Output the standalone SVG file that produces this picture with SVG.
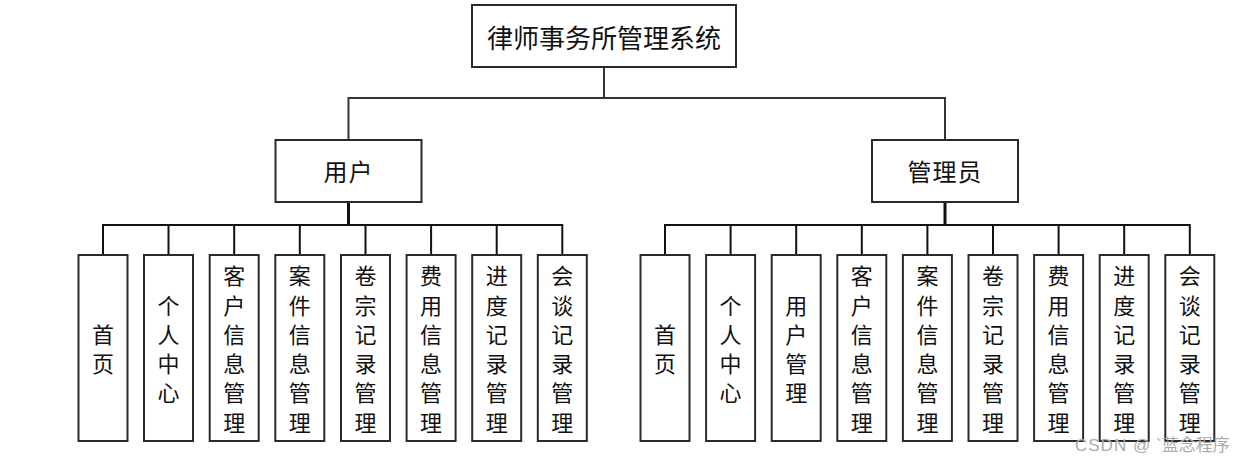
<svg xmlns="http://www.w3.org/2000/svg" width="1255" height="464" viewBox="0 0 1255 464">
<style>
.box{fill:#fff;stroke:#2a2a2a;stroke-width:2}
.t{font-family:"Noto Sans CJK SC","Noto Sans",sans-serif;fill:#111;text-anchor:middle;dominant-baseline:central}
.c{font-size:22px}
.ln{stroke:#111;stroke-width:2;fill:none}
.thick{stroke:#111;stroke-width:3;fill:none}
.top{stroke:#333;stroke-width:2;fill:none}
.wm{font-family:"Liberation Sans","Noto Sans CJK SC",sans-serif;font-size:17px;fill:#aaa}
</style>
<rect width="1255" height="464" fill="#fff"/>
<g id="connectors">
<path class="top" d="M604 68V98M348.5 98H945M348.5 97V139M945 97V139"/>
<path class="thick" d="M348.5 203V226M945 203V226"/>
<path class="ln" d="M103 225H562.3M103 224V254M168.5 224V254M234.2 224V254M299.8 224V254M365.5 224V254M431.1 224V254M496.7 224V254M562.3 224V254"/>
<path class="ln" d="M665 225H1189.8M665 224V254M730.6 224V254M796.2 224V254M861.8 224V254M927.4 224V254M993 224V254M1058.6 224V254M1124.2 224V254M1189.8 224V254"/>
</g>
<g id="root"><rect class="box" x="472" y="5" width="264" height="62"/><text class="t" x="604" y="36" font-size="26">律师事务所管理系统</text></g>
<g id="user"><rect class="box" x="275.5" y="140" width="146" height="62"/><text class="t" x="348.5" y="170" font-size="24" letter-spacing="1">用户</text></g>
<g id="admin"><rect class="box" x="872" y="140" width="146" height="62"/><text class="t" x="945" y="170" font-size="24" letter-spacing="1">管理员</text></g>
<g id="u1"><rect class="box" x="78.5" y="255" width="49" height="186"/><text class="t c"><tspan x="103" y="332.85">首</tspan><tspan x="103" y="362.15">页</tspan></text></g>
<g id="u2"><rect class="box" x="144" y="255" width="49" height="186"/><text class="t c"><tspan x="168.5" y="303.55">个</tspan><tspan x="168.5" y="332.85">人</tspan><tspan x="168.5" y="362.15">中</tspan><tspan x="168.5" y="391.45">心</tspan></text></g>
<g id="u3"><rect class="box" x="209.7" y="255" width="49" height="186"/><text class="t c"><tspan x="234.2" y="274.25">客</tspan><tspan x="234.2" y="303.55">户</tspan><tspan x="234.2" y="332.85">信</tspan><tspan x="234.2" y="362.15">息</tspan><tspan x="234.2" y="391.45">管</tspan><tspan x="234.2" y="420.75">理</tspan></text></g>
<g id="u4"><rect class="box" x="275.3" y="255" width="49" height="186"/><text class="t c"><tspan x="299.8" y="274.25">案</tspan><tspan x="299.8" y="303.55">件</tspan><tspan x="299.8" y="332.85">信</tspan><tspan x="299.8" y="362.15">息</tspan><tspan x="299.8" y="391.45">管</tspan><tspan x="299.8" y="420.75">理</tspan></text></g>
<g id="u5"><rect class="box" x="341" y="255" width="49" height="186"/><text class="t c"><tspan x="365.5" y="274.25">卷</tspan><tspan x="365.5" y="303.55">宗</tspan><tspan x="365.5" y="332.85">记</tspan><tspan x="365.5" y="362.15">录</tspan><tspan x="365.5" y="391.45">管</tspan><tspan x="365.5" y="420.75">理</tspan></text></g>
<g id="u6"><rect class="box" x="406.6" y="255" width="49" height="186"/><text class="t c"><tspan x="431.1" y="274.25">费</tspan><tspan x="431.1" y="303.55">用</tspan><tspan x="431.1" y="332.85">信</tspan><tspan x="431.1" y="362.15">息</tspan><tspan x="431.1" y="391.45">管</tspan><tspan x="431.1" y="420.75">理</tspan></text></g>
<g id="u7"><rect class="box" x="472.2" y="255" width="49" height="186"/><text class="t c"><tspan x="496.7" y="274.25">进</tspan><tspan x="496.7" y="303.55">度</tspan><tspan x="496.7" y="332.85">记</tspan><tspan x="496.7" y="362.15">录</tspan><tspan x="496.7" y="391.45">管</tspan><tspan x="496.7" y="420.75">理</tspan></text></g>
<g id="u8"><rect class="box" x="537.8" y="255" width="49" height="186"/><text class="t c"><tspan x="562.3" y="274.25">会</tspan><tspan x="562.3" y="303.55">谈</tspan><tspan x="562.3" y="332.85">记</tspan><tspan x="562.3" y="362.15">录</tspan><tspan x="562.3" y="391.45">管</tspan><tspan x="562.3" y="420.75">理</tspan></text></g>
<g id="a1"><rect class="box" x="640.5" y="255" width="49" height="186"/><text class="t c"><tspan x="665" y="332.85">首</tspan><tspan x="665" y="362.15">页</tspan></text></g>
<g id="a2"><rect class="box" x="706.1" y="255" width="49" height="186"/><text class="t c"><tspan x="730.6" y="303.55">个</tspan><tspan x="730.6" y="332.85">人</tspan><tspan x="730.6" y="362.15">中</tspan><tspan x="730.6" y="391.45">心</tspan></text></g>
<g id="a3"><rect class="box" x="771.7" y="255" width="49" height="186"/><text class="t c"><tspan x="796.2" y="303.55">用</tspan><tspan x="796.2" y="332.85">户</tspan><tspan x="796.2" y="362.15">管</tspan><tspan x="796.2" y="391.45">理</tspan></text></g>
<g id="a4"><rect class="box" x="837.3" y="255" width="49" height="186"/><text class="t c"><tspan x="861.8" y="274.25">客</tspan><tspan x="861.8" y="303.55">户</tspan><tspan x="861.8" y="332.85">信</tspan><tspan x="861.8" y="362.15">息</tspan><tspan x="861.8" y="391.45">管</tspan><tspan x="861.8" y="420.75">理</tspan></text></g>
<g id="a5"><rect class="box" x="902.9" y="255" width="49" height="186"/><text class="t c"><tspan x="927.4" y="274.25">案</tspan><tspan x="927.4" y="303.55">件</tspan><tspan x="927.4" y="332.85">信</tspan><tspan x="927.4" y="362.15">息</tspan><tspan x="927.4" y="391.45">管</tspan><tspan x="927.4" y="420.75">理</tspan></text></g>
<g id="a6"><rect class="box" x="968.5" y="255" width="49" height="186"/><text class="t c"><tspan x="993" y="274.25">卷</tspan><tspan x="993" y="303.55">宗</tspan><tspan x="993" y="332.85">记</tspan><tspan x="993" y="362.15">录</tspan><tspan x="993" y="391.45">管</tspan><tspan x="993" y="420.75">理</tspan></text></g>
<g id="a7"><rect class="box" x="1034.1" y="255" width="49" height="186"/><text class="t c"><tspan x="1058.6" y="274.25">费</tspan><tspan x="1058.6" y="303.55">用</tspan><tspan x="1058.6" y="332.85">信</tspan><tspan x="1058.6" y="362.15">息</tspan><tspan x="1058.6" y="391.45">管</tspan><tspan x="1058.6" y="420.75">理</tspan></text></g>
<g id="a8"><rect class="box" x="1099.7" y="255" width="49" height="186"/><text class="t c"><tspan x="1124.2" y="274.25">进</tspan><tspan x="1124.2" y="303.55">度</tspan><tspan x="1124.2" y="332.85">记</tspan><tspan x="1124.2" y="362.15">录</tspan><tspan x="1124.2" y="391.45">管</tspan><tspan x="1124.2" y="420.75">理</tspan></text></g>
<g id="a9"><rect class="box" x="1165.3" y="255" width="49" height="186"/><text class="t c"><tspan x="1189.8" y="274.25">会</tspan><tspan x="1189.8" y="303.55">谈</tspan><tspan x="1189.8" y="332.85">记</tspan><tspan x="1189.8" y="362.15">录</tspan><tspan x="1189.8" y="391.45">管</tspan><tspan x="1189.8" y="420.75">理</tspan></text></g>
<text class="wm" x="1075" y="451" letter-spacing="1">CSDN @</text>
<text class="wm" x="1156" y="451" font-size="18">`蓝念程序</text>
</svg>
